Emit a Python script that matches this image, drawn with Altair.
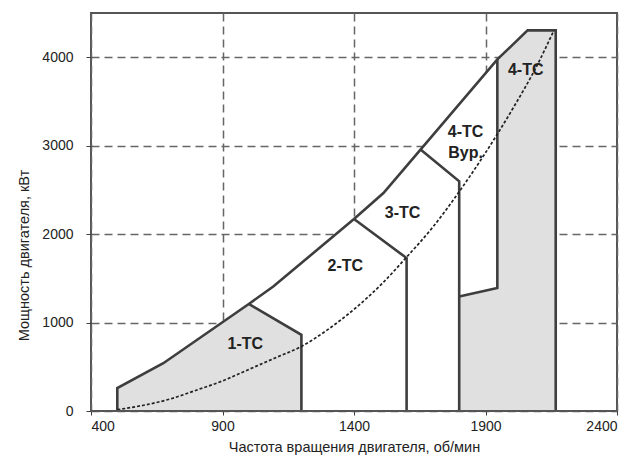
import altair as alt
import pandas as pd

# Upper envelope (engine power limit)
env_x = [500, 500, 675, 1000, 1093, 1400, 1512, 1653, 1945, 2060, 2167, 2167]
env_y = [0, 260, 540, 1210, 1408, 2170, 2465, 2956, 3975, 4303, 4303, 0]

# Gray region 1-TC
tc1_x = [500, 500, 675, 1000, 1200, 1200]
tc1_y = [0, 260, 540, 1210, 861, 0]

# Gray region 4-TC
tc4_x = [1800, 1800, 1945, 1945, 2060, 2167, 2167]
tc4_y = [0, 1294, 1390, 3975, 4303, 4303, 0]

# Boundary segments between operating areas
seg_ids = ["env"] * len(env_x) + ["b1"] * 3 + ["b2"] * 3 + ["b3"] * 3 + ["b4"] * 3
seg_x = env_x + [1000, 1200, 1200] + [1400, 1600, 1600] + [1653, 1800, 1800] + [1800, 1945, 1945]
seg_y = env_y + [1210, 861, 0] + [2170, 1729, 0] + [2956, 2597, 0] + [1294, 1390, 3975]

# Propeller curve (dotted)
curve_x = [500, 600, 700, 800, 900, 1000, 1100, 1200, 1300, 1400, 1500, 1600, 1700, 1800, 1900, 2000, 2100, 2160]
curve_y = [15, 65, 135, 235, 340, 470, 600, 730, 920, 1150, 1420, 1740, 2080, 2480, 2920, 3400, 3930, 4303]

# Region labels
label_text = ["1-TC", "2-TC", "3-TC", "4-TC", "Byp.", "4-TC"]
label_x = [987, 1367, 1585, 1824, 1824, 2053]
label_y = [760, 1642, 2242, 3160, 2922, 3850]

LINE = "#3e3e3e"
FONT = "Liberation Sans"

def frame(xs, ys, seg=None):
    d = pd.DataFrame({"x": xs, "y": ys, "i": list(range(len(xs)))})
    if seg is not None:
        d["seg"] = seg
    return d

xscale = alt.Scale(domain=[400, 2400], nice=False, zero=False)
yscale = alt.Scale(domain=[0, 4500], nice=False)

xaxis = alt.Axis(
    values=[400, 900, 1400, 1900, 2400], title="Частота вращения двигателя, об/мин",
    grid=True, gridDash=[8, 5], gridColor="#666", gridWidth=1.5, domain=False,
    tickSize=4, tickColor=LINE, labelPadding=4, labelFont=FONT, labelFontSize=14,
    labelColor="#222", titleFont=FONT, titleFontSize=14.5, titleFontWeight="normal",
    titleColor="#222", titlePadding=7, format="d",
)
yaxis = alt.Axis(
    values=[0, 1000, 2000, 3000, 4000], title="Мощность двигателя, кВт",
    grid=True, gridDash=[8, 5], gridColor="#666", gridWidth=1.5, domain=False,
    tickSize=5, tickColor=LINE, labelPadding=13, labelFont=FONT, labelFontSize=14,
    labelColor="#222", titleFont=FONT, titleFontSize=14.5, titleFontWeight="normal",
    titleColor="#222", titleX=-67, titleY=242, titleBaseline="middle", format="d",
)

X = alt.X("x:Q", scale=xscale, axis=xaxis)
Y = alt.Y("y:Q", scale=yscale, axis=yaxis)

# Filled polygons drawn as closed paths (line mark with fill)
base_white = alt.Chart(frame(env_x, env_y)).mark_line(
    fill="white", strokeWidth=0, filled=True).encode(
    x=X, y=Y, order="i:Q")

gray1 = alt.Chart(frame(tc1_x, tc1_y)).mark_line(
    fill="#e0e0e0", strokeWidth=0, filled=True).encode(
    x="x:Q", y="y:Q", order="i:Q")
gray4 = alt.Chart(frame(tc4_x, tc4_y)).mark_line(
    fill="#e0e0e0", strokeWidth=0, filled=True).encode(
    x="x:Q", y="y:Q", order="i:Q")

outlines = alt.Chart(frame(seg_x, seg_y, seg_ids)).mark_line(
    color=LINE, strokeWidth=2.6, strokeJoin="miter").encode(
    x="x:Q", y="y:Q", detail="seg:N", order="i:Q")

curve = alt.Chart(frame(curve_x, curve_y)).mark_line(
    color="#222", strokeWidth=1.7, strokeDash=[3, 2], interpolate="monotone").encode(
    x="x:Q", y="y:Q", order="i:Q")

baseline = alt.Chart(pd.DataFrame({"y": [0]})).mark_rule(
    color="#555", strokeWidth=2).encode(y="y:Q")

labels = alt.Chart(pd.DataFrame({"x": label_x, "y": label_y, "t": label_text})).mark_text(
    font="Liberation Sans", fontSize=16, fontWeight="bold", color="#222").encode(
    x="x:Q", y="y:Q", text="t:N")

chart = alt.layer(base_white, gray1, gray4, outlines, curve, baseline, labels).properties(
    width=526, height=398,
    autosize=alt.AutoSizeParams(type="none"),
    padding={"left": 91, "top": 13, "right": 8, "bottom": 51},
    background="white",
).configure_view(stroke="#555", strokeWidth=2)

chart.save("out.html", embed_options={"renderer": "svg", "actions": False})
